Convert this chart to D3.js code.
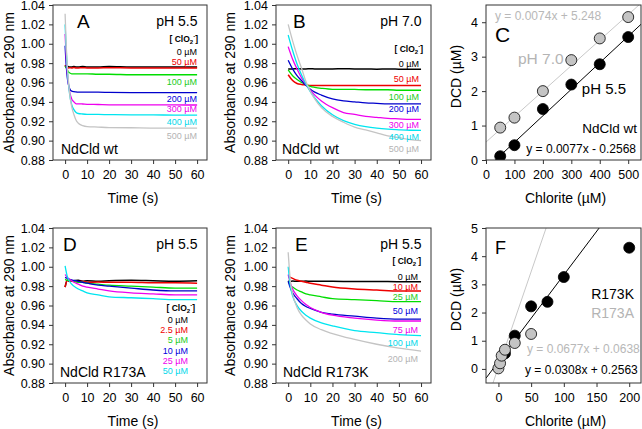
<!DOCTYPE html>
<html><head><meta charset="utf-8">
<script src="https://cdn.jsdelivr.net/npm/d3@7"></script>
<style>body{margin:0;background:#fff}svg{display:block;font-family:"Liberation Sans",Arial,Helvetica,sans-serif}</style>
</head><body><script>
// ---------------- DATA ----------------
const absTicks = [0.88,0.90,0.92,0.94,0.96,0.98,1.00,1.02,1.04];
const timeTicks = [0,10,20,30,40,50,60];

// Panel A: NdCld wt, pH 5.5
const timeA = [0,0.5,1,1.5,2,3,4,5,6,8,10,15,20,30,40,50,60];
const absA0   = [0.976,0.9765,0.976,0.9765,0.976,0.976,0.9765,0.976,0.976,0.9765,0.976,0.976,0.9765,0.976,0.976,0.976,0.976];
const absA50  = [0.978,0.9755,0.975,0.975,0.9752,0.975,0.9755,0.975,0.975,0.9752,0.975,0.975,0.9752,0.975,0.975,0.975,0.975];
const absA100 = [0.977,0.975,0.973,0.971,0.970,0.969,0.969,0.969,0.969,0.969,0.969,0.9685,0.9685,0.968,0.968,0.968,0.968];
const absA200 = [0.998,0.978,0.965,0.958,0.954,0.951,0.9505,0.9503,0.950,0.950,0.950,0.950,0.9498,0.9496,0.9495,0.9495,0.9495];
const absA300 = [1.010,0.987,0.970,0.959,0.951,0.943,0.940,0.938,0.938,0.9378,0.9375,0.9373,0.937,0.937,0.937,0.9368,0.9368];
const absA400 = [1.020,0.994,0.974,0.960,0.949,0.937,0.932,0.929,0.928,0.9275,0.9272,0.927,0.9268,0.9266,0.9265,0.9264,0.9264];
const absA500 = [1.031,0.999,0.978,0.962,0.950,0.935,0.927,0.921,0.918,0.9155,0.9145,0.914,0.9135,0.9133,0.913,0.913,0.913];
const concA = ["0 µM","50 µM","100 µM","200 µM","300 µM","400 µM","500 µM"];

// Panel B: NdCld wt, pH 7.0
const timeB = [0,2,4,6,8,10,12,15,20,25,30,35,40,45,50,55,60];
const absB0   = [0.974,0.974,0.9742,0.974,0.974,0.9742,0.974,0.974,0.974,0.9742,0.974,0.974,0.9738,0.974,0.9738,0.9736,0.9736];
const absB50  = [0.968,0.962,0.959,0.958,0.9575,0.957,0.957,0.957,0.957,0.957,0.957,0.957,0.957,0.957,0.957,0.957,0.957];
const absB100 = [0.973,0.967,0.963,0.960,0.958,0.956,0.955,0.954,0.953,0.953,0.9528,0.9525,0.9525,0.9525,0.952,0.952,0.952];
const absB200 = [0.983,0.974,0.967,0.962,0.957,0.953,0.950,0.947,0.943,0.941,0.940,0.939,0.9385,0.938,0.938,0.938,0.938];
const absB300 = [0.997,0.984,0.974,0.965,0.958,0.952,0.947,0.941,0.934,0.929,0.927,0.925,0.924,0.923,0.9225,0.922,0.922];
const absB400 = [1.009,0.993,0.979,0.968,0.9585,0.9506,0.944,0.936,0.9267,0.9207,0.9169,0.9144,0.9128,0.9118,0.9112,0.9107,0.9105];
const absB500 = [1.020,1.003,0.988,0.975,0.961,0.951,0.943,0.934,0.925,0.919,0.914,0.911,0.908,0.905,0.903,0.901,0.900];
const concB = ["0 µM","50 µM","100 µM","200 µM","300 µM","400 µM","500 µM"];

// Panel D: NdCld R173A, pH 5.5
const timeD = [0,1,2,4,6,8,10,15,20,30,40,50,60];
const absD0   = [0.979,0.986,0.985,0.9855,0.986,0.985,0.9855,0.985,0.9855,0.986,0.9855,0.985,0.9855];
const absD2   = [0.979,0.986,0.985,0.985,0.9845,0.985,0.984,0.9842,0.984,0.984,0.9835,0.9835,0.983];
const absD5   = [0.987,0.986,0.986,0.985,0.984,0.984,0.983,0.982,0.981,0.980,0.979,0.978,0.978];
const absD10  = [0.989,0.988,0.987,0.986,0.985,0.984,0.983,0.981,0.980,0.978,0.976,0.975,0.975];
const absD25  = [0.992,0.989,0.987,0.984,0.982,0.980,0.979,0.977,0.975,0.973,0.972,0.971,0.971];
const absD50  = [1.001,0.990,0.985,0.980,0.977,0.975,0.973,0.971,0.969,0.968,0.967,0.966,0.966];
const concD = ["0 µM","2.5 µM","5 µM","10 µM","25 µM","50 µM"];

// Panel E: NdCld R173K, pH 5.5
const timeE = [0,1,2,4,6,8,10,15,20,30,40,50,60];
const absE0   = [0.985,0.985,0.9852,0.985,0.985,0.9852,0.985,0.985,0.985,0.9848,0.9848,0.9845,0.9845];
const absE10  = [0.990,0.989,0.988,0.986,0.985,0.984,0.983,0.981,0.979,0.977,0.976,0.975,0.975];
const absE25  = [0.985,0.981,0.979,0.976,0.974,0.972,0.971,0.969,0.967,0.966,0.965,0.964,0.964];
const absE50  = [0.985,0.978,0.973,0.967,0.962,0.959,0.957,0.953,0.951,0.949,0.947,0.946,0.946];
const absE75  = [0.992,0.983,0.977,0.970,0.965,0.961,0.958,0.953,0.950,0.947,0.945,0.944,0.944];
const absE100 = [1.000,0.980,0.970,0.960,0.954,0.950,0.947,0.942,0.939,0.934,0.932,0.930,0.929];
const absE200 = [1.015,0.985,0.972,0.958,0.950,0.945,0.941,0.935,0.931,0.925,0.920,0.916,0.913];
const concE = ["0 µM","10 µM","25 µM","50 µM","75 µM","100 µM","200 µM"];

// Panel C: DCD vs chlorite, wt
const chloriteC = [50,100,200,300,400,500];
const dcdC_pH70 = [0.94,1.23,2.00,2.90,3.53,4.15];
const dcdC_pH55 = [0.11,0.43,1.48,2.19,2.78,3.57];
const fitC_pH70 = [0.0074,0.52];     // slope, intercept of drawn line
const fitC_pH55 = [0.0077,-0.2568];
const ticksCx = [0,100,200,300,400,500];
const ticksCy = [0,1,2,3,4];

// Panel F: DCD vs chlorite, mutants
const chloriteF_K = [10,25,50,75,100,200];
const dcdF_K      = [0.55,1.18,2.22,2.38,3.26,4.30];
const chloriteF_A = [0,2.5,5,10,25,50];
const dcdF_A      = [0.02,0.20,0.47,0.68,0.92,1.24];
const fitF_K = [0.0308,0.2563];
const fitF_A = [0.0677,0.0638];
const ticksFx = [0,50,100,150,200];
const ticksFy = [0,1,2,3,4,5];

// ---------------- DRAWING ----------------
const COLORS = ["#000000","#ee0000","#00dd00","#0000cc","#ee00ee","#00e5f0","#c4c4c4"];
const LABEL_COLORS = ["#000000","#ee0000","#22cc22","#0000dd","#ee00ee","#00d8ea","#b4b4b4"];
const svg = d3.select("body").append("svg").attr("width",642).attr("height",429);

function txt(x,y,s,o={}){
  return svg.append("text").attr("x",x).attr("y",y).text(s)
    .attr("font-size",o.size||12).attr("fill",o.fill||"#000")
    .attr("text-anchor",o.anchor||"start").attr("font-weight",o.weight||"normal");
}
function vtitle(x,y,s){
  svg.append("text").attr("transform",`translate(${x},${y}) rotate(-90)`)
    .attr("text-anchor","middle").attr("font-size",14).text(s);
}
let clipN=0;
function makeClip(x,y){
  const id="clip"+(clipN++);
  svg.append("clipPath").attr("id",id).append("rect")
    .attr("x",x.range()[0]).attr("y",y.range()[1])
    .attr("width",x.range()[1]-x.range()[0]).attr("height",y.range()[0]-y.range()[1]);
  return id;
}
function axesFrame(x,y,xt,yt,xf,yf){
  const gx=svg.append("g").attr("transform",`translate(0,${y.range()[0]})`)
    .call(d3.axisBottom(x).tickValues(xt).tickSize(4).tickPadding(6.5).tickFormat(xf));
  const gy=svg.append("g").attr("transform",`translate(${x.range()[0]},0)`)
    .call(d3.axisLeft(y).tickValues(yt).tickSize(4).tickPadding(4).tickFormat(yf));
  [gx,gy].forEach(g=>{
    g.select(".domain").remove();
    g.selectAll("text").attr("font-size",12.5).attr("fill","#000")
      .attr("font-family","'Liberation Sans',Arial,sans-serif");
    g.selectAll("line").attr("stroke","#333");
  });
  svg.append("rect").attr("x",x.range()[0]).attr("y",y.range()[1])
    .attr("width",x.range()[1]-x.range()[0]).attr("height",y.range()[0]-y.range()[1])
    .attr("fill","none").attr("stroke","#333").attr("stroke-width",1);
}
function clo2(x,y){
  const t=svg.append("text").attr("x",x).attr("y",y).attr("text-anchor","end")
    .attr("font-size",8.5).attr("font-weight","bold");
  t.append("tspan").text("[ ClO");
  t.append("tspan").attr("font-size",6).attr("dy",2).text("2");
  t.append("tspan").attr("font-size",6).attr("dy",-6).text("-");
  t.append("tspan").attr("dy",4).text("]");
}

function kinetic(p){
  const x=d3.scaleLinear().domain([-5.5,64.5]).range([p.x0,p.x1]);
  const y=d3.scaleLinear().domain([0.88,1.04]).range([p.y1,p.y0]);
  const id=makeClip(x,y);
  const line=d3.line().x((d,i)=>x(p.time[i])).y(d=>y(d)).curve(d3.curveMonotoneX);
  const g=svg.append("g").attr("clip-path",`url(#${id})`);
  p.series.forEach((s,i)=>{
    g.append("path").attr("d",line(s)).attr("fill","none")
      .attr("stroke",COLORS[i]).attr("stroke-width",i<2?1.5:1.3);
  });
  axesFrame(x,y,timeTicks,absTicks,d3.format("d"),d3.format(".2f"));
  vtitle(p.ytx,(p.y0+p.y1)/2,"Absorbance at 290 nm");
  txt((p.x0+p.x1)/2+3,p.y1+43,"Time (s)",{size:14,anchor:"middle"});
  txt(p.letterX,p.y0+23,p.letter,{size:19});
  txt(p.x1-9.5,p.y0+21,p.ph,{size:14,anchor:"end"});
  txt(p.nameX,p.y1-6,p.name,{size:14});
  clo2(p.cloX,p.cloY);
  p.conc.forEach((c,i)=>txt(p.labX,p.labY[i]+3.2,c,{size:9,anchor:"end",fill:LABEL_COLORS[i]}));
}

kinetic({x0:53,x1:207,y0:5,y1:160,time:timeA,
  series:[absA0,absA50,absA100,absA200,absA300,absA400,absA500],
  ytx:14,letter:"A",letterX:77,ph:"pH 5.5",name:"NdCld wt",nameX:61,
  cloX:198,cloY:41.5,conc:concA,labX:197,labY:[52,62,82,99,109,122,136]});
kinetic({x0:276,x1:431,y0:5,y1:160,time:timeB,
  series:[absB0,absB50,absB100,absB200,absB300,absB400,absB500],
  ytx:235,letter:"B",letterX:293,ph:"pH 7.0",name:"NdCld wt",nameX:282,
  cloX:423,cloY:52,conc:concB,labX:419,labY:[64,79,97,109,125,137,149]});
kinetic({x0:53,x1:207,y0:228,y1:383,time:timeD,
  series:[absD0,absD2,absD5,absD10,absD25,absD50],
  ytx:14,letter:"D",letterX:63,ph:"pH 5.5",name:"NdCld R173A",nameX:60,
  cloX:195,cloY:311,conc:concD,labX:188,labY:[320,330,340,351,361,371]});
kinetic({x0:276,x1:431,y0:228,y1:383,time:timeE,
  series:[absE0,absE10,absE25,absE50,absE75,absE100,absE200],
  ytx:235,letter:"E",letterX:295,ph:"pH 5.5",name:"NdCld R173K",nameX:283,
  cloX:421,cloY:264,conc:concE,labX:418,labY:[277,287,297,311,330,343,359]});

function scatterPanel(p){
  const x=d3.scaleLinear().domain(p.xd).range([p.x0,p.x1]);
  const y=d3.scaleLinear().domain(p.yd).range([p.y1,p.y0]);
  const id=makeClip(x,y);
  const g=svg.append("g").attr("clip-path",`url(#${id})`);
  p.fits.forEach(f=>{
    g.append("line").attr("x1",x(p.xd[0])).attr("y1",y(f.fit[0]*p.xd[0]+f.fit[1]))
      .attr("x2",x(p.xd[1])).attr("y2",y(f.fit[0]*p.xd[1]+f.fit[1]))
      .attr("stroke",f.color).attr("stroke-width",1);
  });
  p.pts.forEach(s=>{
    g.selectAll(null).data(s.xs).enter().append("circle")
      .attr("cx",d=>x(d)).attr("cy",(d,i)=>y(s.ys[i])).attr("r",5.5)
      .attr("fill",s.fill).attr("stroke","#000").attr("stroke-width",0.8);
  });
  axesFrame(x,y,p.xt,p.yt,d3.format("d"),d3.format("d"));
  vtitle(461,(p.y0+p.y1)/2-6,"DCD (µM)");
  txt((p.x0+p.x1)/2+2,p.y1+43,"Chlorite (µM)",{size:14,anchor:"middle"});
}

scatterPanel({x0:486,x1:641,y0:5,y1:160,xd:[0,545],yd:[0,4.5],xt:ticksCx,yt:ticksCy,
  fits:[{fit:fitC_pH70,color:"#c8c8c8"},{fit:fitC_pH55,color:"#000"}],
  pts:[{xs:chloriteC,ys:dcdC_pH70,fill:"#c4c4c4"},{xs:chloriteC,ys:dcdC_pH55,fill:"#000"}]});
txt(495,41.5,"C",{size:21});
txt(495,20,"y = 0.0074x + 5.248",{size:12,fill:"#b8b8b8"});
txt(518,64,"pH 7.0",{size:15.5,fill:"#b4b4b4"});
txt(626,94,"pH 5.5",{size:15,anchor:"end"});
txt(637,133,"NdCld wt",{size:13.5,anchor:"end"});
txt(636,153,"y = 0.0077x - 0.2568",{size:12,anchor:"end"});

scatterPanel({x0:486,x1:641,y0:228,y1:383,xd:[-19,218],yd:[-0.5,5],xt:ticksFx,yt:ticksFy,
  fits:[{fit:fitF_A,color:"#c8c8c8"},{fit:fitF_K,color:"#000"}],
  pts:[{xs:chloriteF_K,ys:dcdF_K,fill:"#000"},{xs:chloriteF_A,ys:dcdF_A,fill:"#c4c4c4"}]});
txt(495,254,"F",{size:18});
txt(634,299,"R173K",{size:14,anchor:"end"});
txt(634,318,"R173A",{size:14,anchor:"end",fill:"#b4b4b4"});
txt(527,352.5,"y = 0.0677x + 0.0638",{size:12,fill:"#b8b8b8"});
txt(525,374,"y = 0.0308x + 0.2563",{size:12});
</script></body></html>
